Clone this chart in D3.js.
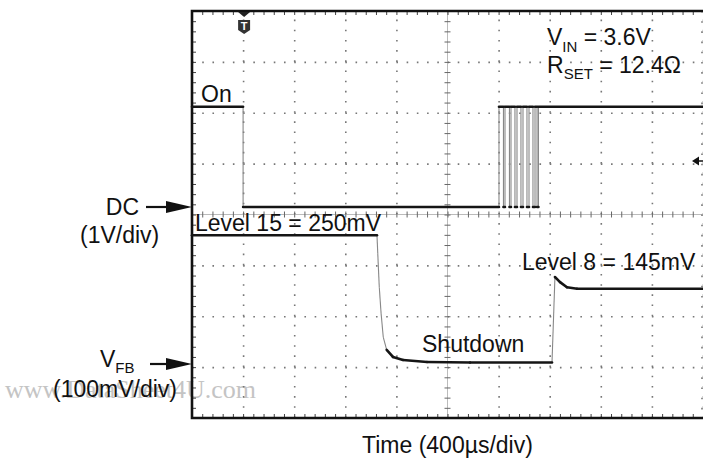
<!DOCTYPE html>
<html>
<head>
<meta charset="utf-8">
<script src="https://cdn.jsdelivr.net/npm/d3@7"></script>
<style>
  html, body { margin: 0; padding: 0; background: #fff; }
  svg { display: block; }
  text { font-family: "Liberation Sans", Arial, sans-serif; fill: #111; }
</style>
</head>
<body>
<svg id="chart" width="703" height="460"></svg>
<script>
// ---------------- data ----------------
// Time axis: 400 µs / div, 10 divisions
const timeDomain = [0, 4000];
const timeMajorTicks = [0, 400, 800, 1200, 1600, 2000, 2400, 2800, 3200, 3600, 4000];
const divMajorTicks = [0, 1, 2, 3, 4, 5, 6, 7, 8];

// Channel 1 : DC (1 V/div) — step signal, times in µs, volts
const dcTimes = [0, 400, 2403, 2438, 2450, 2485, 2497, 2528, 2544, 2575, 2591, 2622, 2638, 2669, 2685, 2701, 2712, 4000];
const dcVolts = [1.97, 0, 1.97, 0, 1.97, 0, 1.97, 0, 1.97, 0, 1.97, 0, 1.97, 0, 1.97, 0, 1.97, 1.97];

// Channel 2 : VFB (100 mV/div), times in µs, mV
const fbTimes = [0, 1448, 1454, 1466, 1480, 1497, 1524, 1573, 1652, 1840, 2176, 2818, 2841, 2881, 2935, 3014, 4000];
const fbMv    = [250, 250, 215, 148, 97, 50, 25, 11, 5, 1, 0, 0, 168, 158, 148, 145, 145];

// Labels
const labelOn = "On";
const labelLevel15 = "Level 15 = 250mV";
const labelLevel8 = "Level 8 = 145mV";
const labelShutdown = "Shutdown";
const labelTime = "Time (400µs/div)";

// ---------------- layout ----------------
const svg = d3.select("#chart");
const L = 192, R = 703, T = 11, B = 418;
const W = R - L, H = B - T;

const x = d3.scaleLinear().domain(timeDomain).range([L, R]);
const yDiv = d3.scaleLinear().domain([0, 8]).range([B, T]);
const divPx = H / 8;
// DC ground at y=207, 1 V/div
const dcGround = 207;
const yDC = d3.scaleLinear().domain([-(B - dcGround) / divPx, (dcGround - T) / divPx]).range([B, T]);
// VFB ground at y=362.5, 100 mV/div
const fbGround = 362.5;
const yFB = d3.scaleLinear().domain([-(B - fbGround) / divPx * 100, (fbGround - T) / divPx * 100]).range([B, T]);

// watermark
svg.append("text")
  .attr("x", 5).attr("y", 398)
  .style("font-family", "'Liberation Serif', 'Times New Roman', serif")
  .style("font-size", "26px")
  .style("fill", "#c4c4c4")
  .text("www.DataSheet4U.com");

// ---------------- grid ----------------
const minorX = d3.range(0, 4000.1, 80);
const minorY = d3.range(0, 8.01, 0.2);

// vertical dotted grid
const gx = svg.append("g").attr("transform", `translate(0,${B})`)
  .call(d3.axisBottom(x).tickValues(timeMajorTicks.filter(t => t !== 2000 && t !== 0)).tickSize(-H).tickFormat(""));
gx.select(".domain").remove();
gx.selectAll(".tick line")
  .attr("stroke", "#777").attr("stroke-width", 1.6)
  .attr("stroke-dasharray", `1.6,${(divPx / 5 - 1.6).toFixed(3)}`);

// horizontal dotted grid
const gy = svg.append("g").attr("transform", `translate(${L},0)`)
  .call(d3.axisLeft(yDiv).tickValues(divMajorTicks.filter(d => d !== 4 && d !== 0 && d !== 8)).tickSize(-W).tickFormat(""));
gy.select(".domain").remove();
gy.selectAll(".tick line")
  .attr("stroke", "#777").attr("stroke-width", 1.6)
  .attr("stroke-dasharray", `1.6,${(W / 50 - 1.6).toFixed(3)}`);

// center lines with cross ticks
const cy = yDiv(4), cx = x(2000);
svg.append("line").attr("x1", L).attr("x2", R).attr("y1", cy).attr("y2", cy)
  .attr("stroke", "#bbb").attr("stroke-width", 1);
svg.append("line").attr("x1", cx).attr("x2", cx).attr("y1", T).attr("y2", B)
  .attr("stroke", "#bbb").attr("stroke-width", 1);
const cH = svg.append("g").attr("transform", `translate(0,${cy})`)
  .call(d3.axisBottom(x).tickValues(minorX).tickFormat(""));
cH.select(".domain").remove();
cH.selectAll(".tick line").attr("y1", -3).attr("y2", 3).attr("stroke", "#666");
const cV = svg.append("g").attr("transform", `translate(${cx},0)`)
  .call(d3.axisLeft(yDiv).tickValues(minorY).tickFormat(""));
cV.select(".domain").remove();
cV.selectAll(".tick line").attr("x1", -3).attr("x2", 3).attr("stroke", "#666");

// border minor ticks (inward)
const bt = svg.append("g").attr("transform", `translate(0,${T})`)
  .call(d3.axisTop(x).tickValues(minorX).tickSize(-4).tickFormat(""));
bt.select(".domain").remove();
bt.selectAll(".tick line").attr("stroke", "#444");
const bb = svg.append("g").attr("transform", `translate(0,${B})`)
  .call(d3.axisBottom(x).tickValues(minorX).tickSize(-4).tickFormat(""));
bb.select(".domain").remove();
bb.selectAll(".tick line").attr("stroke", "#444");
const bl = svg.append("g").attr("transform", `translate(${L},0)`)
  .call(d3.axisLeft(yDiv).tickValues(minorY).tickSize(-4).tickFormat(""));
bl.select(".domain").remove();
bl.selectAll(".tick line").attr("stroke", "#444");
// dotted right edge grid line (cut by image edge)
svg.append("line").attr("x1", R - 1).attr("x2", R - 1).attr("y1", T).attr("y2", B)
  .attr("stroke", "#777").attr("stroke-width", 1.6)
  .attr("stroke-dasharray", `1.6,${(divPx / 5 - 1.6).toFixed(3)}`);

// borders
svg.append("path")
  .attr("d", `M${R},${T}H${L}V${B}H${R}`)
  .attr("fill", "none").attr("stroke", "#111").attr("stroke-width", 2.6);

// ---------------- traces ----------------
function drawTrace(points) {
  const g = svg.append("g");
  for (let i = 0; i < points.length - 1; i++) {
    const a = points[i], b = points[i + 1];
    const dx = Math.abs(b[0] - a[0]), dy = Math.abs(b[1] - a[1]);
    const steep = dy > 3 * Math.max(dx, 0.01) && dy > 4;
    g.append("line")
      .attr("x1", a[0]).attr("y1", a[1]).attr("x2", b[0]).attr("y2", b[1])
      .attr("stroke", steep ? "#888" : "#151515")
      .attr("stroke-width", steep ? 1.1 : 2.6)
      .attr("stroke-linecap", steep ? "butt" : "round");
  }
  // redraw flat parts on top
  g.selectAll("line").filter(function () { return d3.select(this).attr("stroke") === "#151515"; }).raise();
}

// DC step trace
const dcPts = [];
for (let i = 0; i < dcTimes.length; i++) {
  if (i > 0 && dcVolts[i] !== dcVolts[i - 1]) dcPts.push([x(dcTimes[i]), yDC(dcVolts[i - 1])]);
  dcPts.push([x(dcTimes[i]), yDC(dcVolts[i])]);
}
drawTrace(dcPts);

// VFB trace
const fbPts = fbTimes.map((t, i) => [x(t), yFB(fbMv[i])]);
drawTrace(fbPts);

// ---------------- markers ----------------
// trigger marker
const tx = x(400) + 1;
svg.append("path").attr("d", `M${tx - 6},${T + 1}L${tx + 6},${T + 1}L${tx},${T + 6}Z`).attr("fill", "#222");
svg.append("path")
  .attr("d", `M${tx - 6},${T + 9}H${tx + 6}V${T + 19}L${tx},${T + 23}L${tx - 6},${T + 19}Z`)
  .attr("fill", "#333");
svg.append("text").attr("x", tx).attr("y", T + 19).attr("text-anchor", "middle")
  .style("font-size", "11px").style("font-weight", "bold").style("fill", "#fff").text("T");

// right side small arrow
svg.append("path").attr("d", `M692,161L699,156.5L699,165.5Z`).attr("fill", "#111");
svg.append("line").attr("x1", 698).attr("x2", 703).attr("y1", 161).attr("y2", 161).attr("stroke", "#111").attr("stroke-width", 1.5);

// channel reference arrows
function refArrow(yPos, x0) {
  svg.append("line").attr("x1", x0).attr("x2", 170).attr("y1", yPos).attr("y2", yPos)
    .attr("stroke", "#111").attr("stroke-width", 2.2);
  svg.append("path").attr("d", `M166,${yPos - 6}L${L},${yPos}L166,${yPos + 6}Z`).attr("fill", "#111");
}
refArrow(dcGround, 146);
refArrow(364, 150);

// ---------------- text ----------------
const fs = "23px", sub = "15px";
svg.append("text").attr("x", 139).attr("y", 215).attr("text-anchor", "end").style("font-size", fs).text("DC");
svg.append("text").attr("x", 80).attr("y", 243).style("font-size", fs).text("(1V/div)");
const vfb = svg.append("text").attr("x", 100).attr("y", 367).style("font-size", fs);
vfb.append("tspan").text("V");
vfb.append("tspan").attr("dy", 6).style("font-size", sub).text("FB");
svg.append("text").attr("x", 53).attr("y", 397).style("font-size", fs).text("(100mV/div)");

svg.append("text").attr("x", 201).attr("y", 102).style("font-size", fs).text(labelOn);
svg.append("text").attr("x", 195).attr("y", 231).style("font-size", fs).text(labelLevel15);
svg.append("text").attr("x", 522).attr("y", 270).style("font-size", fs).text(labelLevel8);
svg.append("text").attr("x", 422).attr("y", 352).style("font-size", fs).text(labelShutdown);
svg.append("text").attr("x", 362).attr("y", 453).style("font-size", fs).text(labelTime);

const vin = svg.append("text").attr("x", 547).attr("y", 45).style("font-size", fs);
vin.append("tspan").text("V");
vin.append("tspan").attr("dy", 7).style("font-size", sub).text("IN");
vin.append("tspan").attr("dy", -7).text(" = 3.6V");
const rset = svg.append("text").attr("x", 547).attr("y", 73).style("font-size", fs);
rset.append("tspan").text("R");
rset.append("tspan").attr("dy", 6).style("font-size", sub).text("SET");
rset.append("tspan").attr("dy", -6).text(" = 12.4Ω");
</script>
</body>
</html>
